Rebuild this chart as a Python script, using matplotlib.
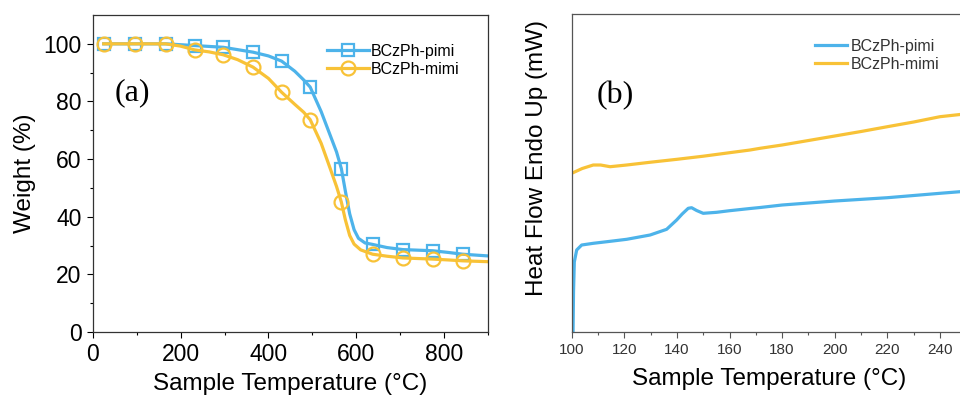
import matplotlib.pyplot as plt
import numpy as np

plt.rcParams['font.family'] = ['Liberation Sans', 'DejaVu Sans']

# (a) TGA data
tga_temp_pimi = [25, 96, 166, 232, 297, 365, 400, 430, 460, 480, 495, 520, 540, 555, 566,
                 575, 585, 595, 605, 620, 637, 670, 706, 740, 774, 810, 842, 900]
tga_pimi = [100, 100, 100, 99.4, 98.8, 97.1, 95.8, 94.0, 90.5, 87.5, 85.0, 76.5, 68.5, 62.5, 56.7,
            49.0, 41.0, 35.5, 32.5, 30.9, 30.4, 29.3, 28.6, 28.4, 28.2, 27.6, 27.0, 26.4]
tga_temp_mimi = [25, 96, 166, 200, 232, 265, 297, 330, 365, 400, 430, 460, 480, 495, 520,
                 540, 555, 566, 575, 585, 595, 610, 637, 670, 706, 740, 774, 810, 842, 900]
tga_mimi = [100, 100, 100, 99.2, 97.9, 97.2, 96.2, 94.5, 91.9, 88.0, 83.2, 79.0, 76.3, 73.7, 65.5,
            57.0, 50.5, 45.1, 39.0, 33.5, 30.5, 28.5, 27.0, 26.3, 25.7, 25.5, 25.3, 25.0, 24.7, 24.4]
marker_temps = [25, 96, 166, 232, 297, 365, 430, 495, 566, 637, 706, 774, 842]

# (b) DSC data (arbitrary units)
dsc_temp_pimi = [100.5, 100.7, 101.0, 101.9, 103.8, 108.2, 114, 120.9, 129.8, 136.1, 139.9,
                 142.0, 144.3, 145.6, 147.5, 150, 155.1, 160, 167.8, 171.6, 180, 200, 220, 240, 247.6, 250]
dsc_pimi = [-5, 40, 70, 82, 87, 88.7, 90.5, 92.7, 97, 102.7, 112,
            118, 123.7, 124.3, 121.5, 118.7, 119.7, 121.3, 123.5, 124.5, 127, 131, 134.3, 138.7, 140.3, 140.8]
dsc_temp_mimi = [100, 104, 108.2, 111, 114.6, 120.9, 130, 140, 150, 160, 167.8, 171.6,
                 180, 190, 200, 210, 220, 230, 240, 247.6, 250]
dsc_mimi = [158.7, 163.5, 167, 167, 165.3, 167, 169.8, 172.7, 175.8, 179.3, 182, 183.7,
            187, 191.5, 196, 200.5, 205.3, 210, 215.3, 217.5, 218.3]

blue = '#4DB3EA'
yellow = '#F8C237'

fig = plt.figure(figsize=(9.6, 3.98), dpi=100)
ax1 = fig.add_axes([0.0966, 0.1658, 0.4118, 0.7965])
ax2 = fig.add_axes([0.5955, 0.1658, 0.411, 0.799])

# panel (a)
idx_p = [i for i, t in enumerate(tga_temp_pimi) if t in marker_temps]
idx_m = [i for i, t in enumerate(tga_temp_mimi) if t in marker_temps]
ax1.plot(tga_temp_pimi, tga_pimi, color=blue, lw=2.3, marker='s', ms=8.5, mfc='none',
         mew=1.6, markevery=idx_p, label='BCzPh-pimi')
ax1.plot(tga_temp_mimi, tga_mimi, color=yellow, lw=2.3, marker='o', ms=10, mfc='none',
         mew=1.6, markevery=idx_m, label='BCzPh-mimi')
ax1.set_xlim(0, 900)
ax1.set_ylim(0, 110)
ax1.set_xticks([0, 200, 400, 600, 800])
ax1.set_xticks([100, 300, 500, 700, 900], minor=True)
ax1.set_yticks([0, 20, 40, 60, 80, 100])
ax1.set_yticks([10, 30, 50, 70, 90], minor=True)
ax1.tick_params(which='major', direction='out', length=4, width=0.8, labelsize=16.5, pad=4)
ax1.tick_params(which='minor', direction='out', length=2.5, width=0.8)
for s in ax1.spines.values():
    s.set_color('#333333')
    s.set_linewidth(0.9)
ax1.set_xlabel('Sample Temperature (°C)', fontsize=17.5, labelpad=5)
ax1.set_ylabel('Weight (%)', fontsize=17.5, labelpad=5)
ax1.text(0.055, 0.73, '(a)', transform=ax1.transAxes, family='Liberation Serif', fontsize=23)
ax1.legend(loc='upper left', bbox_to_anchor=(0.593, 0.91), frameon=False, fontsize=11.5,
           handlelength=2.6, handletextpad=0.15, labelspacing=0.2, borderpad=0, borderaxespad=0)

# panel (b)
ax2.plot(dsc_temp_pimi, dsc_pimi, color=blue, lw=2.3, label='BCzPh-pimi')
ax2.plot(dsc_temp_mimi, dsc_mimi, color=yellow, lw=2.3, label='BCzPh-mimi')
ax2.set_xlim(100, 250)
ax2.set_ylim(0, 318)
ax2.set_xticks(np.arange(100, 251, 20))
ax2.set_xticks(np.arange(110, 251, 20), minor=True)
ax2.set_yticks([])
ax2.tick_params(which='major', direction='out', length=4, width=0.8, labelsize=11,
                labelcolor='#333333', color='#555555', pad=4)
ax2.tick_params(which='minor', direction='out', length=2.5, width=0.8, color='#555555')
for s in ax2.spines.values():
    s.set_color('#555555')
    s.set_linewidth(0.9)
ax2.set_xlabel('Sample Temperature (°C)', fontsize=17.5, labelpad=8)
fig.text(537 / 960, 1 - 158 / 398, 'Heat Flow Endo Up (mW)', rotation=90, fontsize=17.5,
         ha='center', va='center')
ax2.text(0.062, 0.72, '(b)', transform=ax2.transAxes, family='Liberation Serif', fontsize=23)
ax2.legend(loc='upper left', bbox_to_anchor=(0.617, 0.922), frameon=False, fontsize=11.5,
           handlelength=2.0, handletextpad=0.2, labelspacing=0.2, borderpad=0, borderaxespad=0,
           labelcolor='#333333')

fig.savefig('out.png', dpi=100)
